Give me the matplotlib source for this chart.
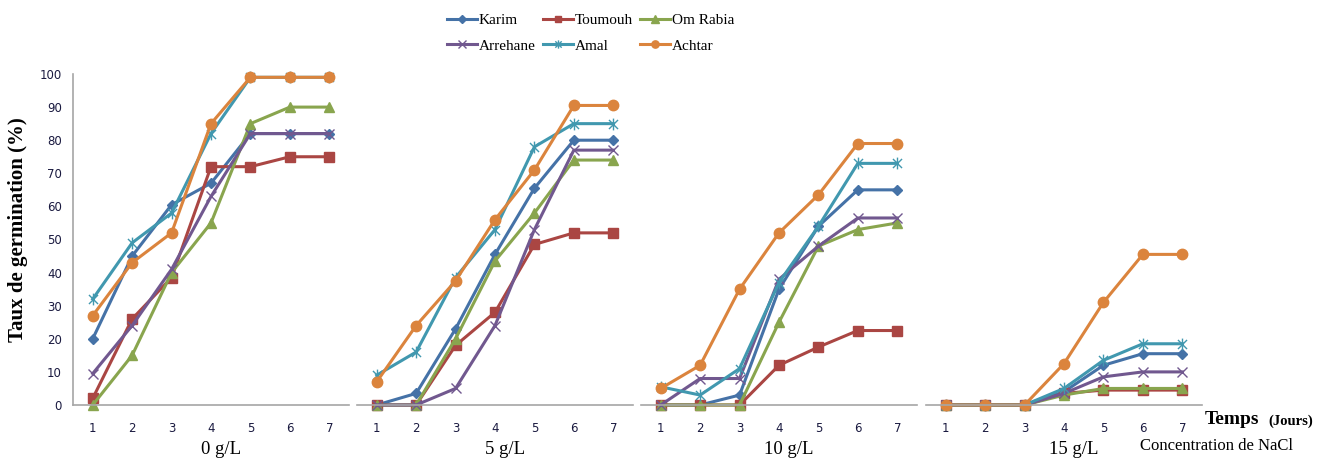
import matplotlib.pyplot as plt
import numpy as np
from matplotlib.path import Path

days = [1, 2, 3, 4, 5, 6, 7]
concentrations = ["0 g/L", "5 g/L", "10 g/L", "15 g/L"]
varieties = ["Karim", "Toumouh", "Om Rabia", "Arrehane", "Amal", "Achtar"]

# germination rate (%) per variety, one list per NaCl concentration
karim = [[20, 45, 60.5, 67, 82, 82, 82],
         [0, 3.5, 23, 45.5, 65.5, 80, 80],
         [0, 0, 3, 35, 54, 65, 65],
         [0, 0, 0, 4, 12, 15.5, 15.5]]
toumouh = [[2, 26, 38.5, 72, 72, 75, 75],
           [0, 0, 18, 28, 48.5, 52, 52],
           [0, 0, 0, 12, 17.5, 22.5, 22.5],
           [0, 0, 0, 3.5, 4.5, 4.5, 4.5]]
om_rabia = [[0, 15, 40, 55, 85, 90, 90],
            [0, 0, 20, 43.5, 58, 74, 74],
            [0, 0, 0, 25, 48, 53, 55],
            [0, 0, 0, 3, 5, 5, 5]]
arrehane = [[9.5, 24, 41, 63, 82, 82, 82],
            [0, 0, 5, 24, 53, 77, 77],
            [0, 8, 8, 38, 48, 56.5, 56.5],
            [0, 0, 0, 3.5, 8.5, 10, 10]]
amal = [[32, 49, 58, 82, 99, 99, 99],
        [9, 16, 38.5, 53, 78, 85, 85],
        [5.5, 3, 11, 37, 54, 73, 73],
        [0, 0, 0, 5, 13.5, 18.5, 18.5]]
achtar = [[27, 43, 52, 85, 99, 99, 99],
          [7, 24, 37.5, 56, 71, 90.5, 90.5],
          [5, 12, 35, 52, 63.5, 79, 79],
          [0, 0, 0, 12.5, 31, 45.5, 45.5]]

series = [karim, toumouh, om_rabia, arrehane, amal, achtar]
colors = ["#4572A7", "#AA4643", "#89A54E", "#71588F", "#4198AF", "#DB843D"]

# excel style star marker: x with a vertical bar
star = Path([(-1, -1), (1, 1), (-1, 1), (1, -1), (0, -1.3), (0, 1.3)],
            [Path.MOVETO, Path.LINETO, Path.MOVETO, Path.LINETO, Path.MOVETO, Path.LINETO])
markers = ["D", "s", "^", "x", star, "o"]
msizes = [5.5, 7, 7.5, 7.5, 8.5, 7.5]

serif = "Liberation Serif"
W, H = 1317, 459
fig = plt.figure(figsize=(W / 100, H / 100), dpi=100)

lefts = [73, 357, 641, 926]
pw = 276
bottom, top = 405, 74
for k, left in enumerate(lefts):
    ax = fig.add_axes([left / W, 1 - bottom / H, pw / W, (bottom - top) / H])
    handles = []
    for s, name in enumerate(varieties):
        kw = dict(color=colors[s], lw=2.2, marker=markers[s], markersize=msizes[s],
                  clip_on=False, label=name)
        if s in (3, 4):
            kw.update(markeredgewidth=1.0)
        h, = ax.plot(days, series[s][k], **kw)
        handles.append(h)
    ax.set_xlim(0.5, 7.5)
    ax.set_ylim(0, 100)
    ax.set_xticks(days)
    ax.tick_params(axis="x", length=0, labelsize=8.5, labelcolor="#1a1a40", pad=12)
    for sp in ["top", "right"]:
        ax.spines[sp].set_visible(False)
    ax.spines["bottom"].set_color("#a6a6a6")
    ax.spines["bottom"].set_linewidth(1.2)
    if k == 0:
        ax.spines["left"].set_color("#a6a6a6")
        ax.spines["left"].set_linewidth(1.2)
        ax.set_yticks(np.arange(0, 101, 10))
        ax.tick_params(axis="y", length=0, labelsize=8.5, labelcolor="#1a1a40", pad=8)
    else:
        ax.spines["left"].set_visible(False)
        ax.set_yticks([])
    ax.text((left + pw / 2 + 10) / W, 1 - 450 / H, concentrations[k],
            transform=fig.transFigure, ha="center", va="center",
            fontfamily=serif, fontsize=13.5)

fig.text(18 / W, 1 - 230 / H, "Taux de germination (%)", rotation=90,
         fontfamily=serif, fontweight="bold", fontsize=15, ha="center", va="center")

order = [0, 3, 1, 4, 2, 5]
fig.legend([handles[i] for i in order], [varieties[i] for i in order], ncol=3,
           loc="upper left", bbox_to_anchor=(433 / W, 1.0), frameon=False,
           prop={"family": serif, "size": 11}, handlelength=2.0, handletextpad=0.1,
           columnspacing=0.45, labelspacing=0.75, markerscale=0.7)

fig.text(1205 / W, 1 - 420 / H, "Temps", fontfamily=serif, fontweight="bold",
         fontsize=14, va="center", ha="left")
fig.text(1268 / W, 1 - 421 / H, "(Jours)", fontfamily=serif, fontweight="bold",
         fontsize=10.5, va="center", ha="left")
fig.text(1140 / W, 1 - 446 / H, "Concentration de NaCl", fontfamily=serif,
         fontsize=12, va="center", ha="left")

fig.savefig("out.png", dpi=100)
